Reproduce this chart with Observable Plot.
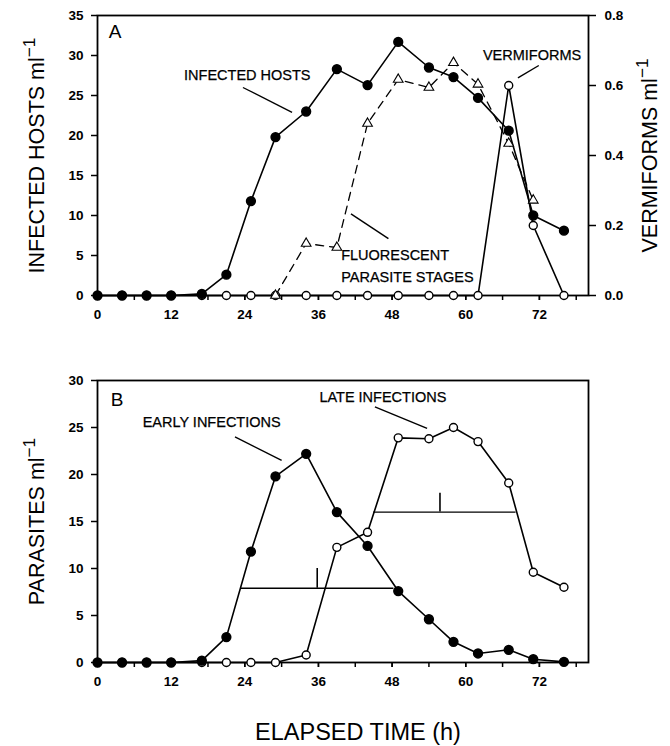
<!DOCTYPE html>
<html><head><meta charset="utf-8">
<script src="https://cdn.jsdelivr.net/npm/d3@7"></script>
<script src="https://cdn.jsdelivr.net/npm/@observablehq/plot@0.6"></script>
<style>body{margin:0;background:#fff}#chart svg{display:block;background:#fff}</style>
</head><body><div id="chart"></div>
<script>
// ---------- data ----------
const hours = [0,4,8,12,17,21,25,29,34,39,44,49,54,58,62,67,71,76];
const infectedHosts = [0,0,0,0,0.2,2.6,11.8,19.8,23,28.3,26.3,31.7,28.5,27.3,24.7,20.6,10,8.1];
const vermiforms = [0,0,0,0,0,0,0,0,0,0,0,0,0,0,0,0.6,0.2,0];
const fluorHours = [29,34,39,44,49,54,58,62,67,71];
const fluorescent = [0,6.5,6.0,21.5,27,26,29.1,26.4,19,11.9];

const earlyInfections = [0,0,0,0,0.2,2.7,11.8,19.8,22.2,16.0,12.4,7.6,4.6,2.2,0.96,1.35,0.35,0.07];
const lateInfections = [0,0,0,0,0,0,0,0,0.8,12.25,13.85,23.9,23.8,25.0,23.5,19.1,9.6,8.0];

// horizontal range bars with a vertical marker (panel B)
const barsB = [
  {x1: 23.3, x2: 48.3, y: 7.9, xm: 35.8, ym: 10.0},
  {x1: 45.0, x2: 68.2, y: 16.0, xm: 55.8, ym: 18.0}
];

const xTicksMajor = [0,12,24,36,48,60,72];
const xTicksMinor = [0,6,12,18,24,30,36,42,48,54,60,66,72,78];
const yTicksA = [0,5,10,15,20,25,30,35];
const yTicksRightA = [0.0,0.2,0.4,0.6,0.8];
const yTicksB = [0,5,10,15,20,25,30];

const labelsA = [
  {text: "INFECTED HOSTS", x: 24.4, y: 27.5},
  {text: "VERMIFORMS", x: 70.8, y: 30.0}
];
const labelsAStart = [
  {text: "FLUORESCENT\nPARASITE STAGES", x: 39.7, y: 3.9}
];
const leadersA = [
  {x1: 23.7, y1: 26.0, x2: 31.7, y2: 22.9},
  {x1: 41.3, y1: 10.2, x2: 47.4, y2: 7.1},
  {x1: 68.5, y1: 27.2, x2: 71.9, y2: 28.75}
];
const labelsB = [
  {text: "LATE INFECTIONS", x: 46.5, y: 28.2},
  {text: "EARLY INFECTIONS", x: 18.6, y: 25.5}
];
const leadersB = [
  {x1: 45.2, y1: 27.2, x2: 53.7, y2: 24.9},
  {x1: 22.4, y1: 24.0, x2: 30.0, y2: 21.5}
];
const panelLetters = [{text: "A", x: 2.85, y: 32.9}, {text: "B", x: 3.2, y: 27.9}];

// ---------- build rows ----------
const hostRows = hours.map((h, i) => ({h, v: infectedHosts[i]}));
const vermMax = 0.8, leftMaxA = 35;
const vermRows = hours.map((h, i) => ({h, v: vermiforms[i] * leftMaxA / vermMax}));
const fluorRows = fluorHours.map((h, i) => ({h, v: fluorescent[i]}));
const earlyRows = hours.map((h, i) => ({h, v: earlyInfections[i]}));
const lateRows = hours.map((h, i) => ({h, v: lateInfections[i]}));

const FONT = "Liberation Sans, Arial, Helvetica, sans-serif";
const W = 670, ML = 97, MR = 82;

function xAxes() {
  return [
    Plot.axisX({ticks: xTicksMinor, tickSize: 5, tickFormat: () => "", label: null, strokeWidth: 1.5}),
    Plot.axisX({ticks: xTicksMajor, tickSize: 5, tickPadding: 9, label: null, fontSize: 13.5, fontWeight: "bold", strokeWidth: 1.5})
  ];
}

const lineStyle = {x: "h", y: "v", stroke: "black", strokeWidth: 1.6};
const annot = {fontSize: 14.5, fill: "black", stroke: "black", strokeWidth: 0.25};

const plotA = Plot.plot({
  width: W, height: 330,
  marginLeft: ML, marginRight: MR, marginTop: 15, marginBottom: 35,
  style: {fontFamily: FONT, color: "black", background: "white"},
  x: {domain: [0, 80]},
  y: {domain: [0, 35]},
  marks: [
    Plot.frame({stroke: "black", strokeWidth: 1.8}),
    Plot.axisY({ticks: yTicksA, tickSize: 6, tickPadding: 8, label: null, fontSize: 13.5, fontWeight: "bold", strokeWidth: 1.5}),
    Plot.axisY({anchor: "right", ticks: yTicksRightA.map(v => v * leftMaxA / vermMax), tickFormat: d => (d * vermMax / leftMaxA).toFixed(1), tickSize: 7, tickPadding: 9, label: null, fontSize: 13.5, fontWeight: "bold", strokeWidth: 1.5}),
    ...xAxes(),
    Plot.line(vermRows, lineStyle),
    Plot.line(fluorRows, {...lineStyle, strokeWidth: 1.3, strokeDasharray: "8,6"}),
    Plot.line(hostRows, lineStyle),
    Plot.dot(vermRows, {x: "h", y: "v", r: 4, fill: "white", stroke: "black", strokeWidth: 1.4}),
    Plot.dot(fluorRows, {x: "h", y: "v", r: 3.6, symbol: "triangle", fill: "white", stroke: "black", strokeWidth: 1.1}),
    Plot.dot(hostRows, {x: "h", y: "v", r: 4.4, fill: "black", stroke: "black"}),
    Plot.link(leadersA, {x1: "x1", y1: "y1", x2: "x2", y2: "y2", stroke: "black", strokeWidth: 1.4}),
    Plot.text(labelsA, {x: "x", y: "y", text: "text", ...annot}),
    Plot.text(labelsAStart, {x: "x", y: "y", text: "text", textAnchor: "start", lineHeight: 1.5, ...annot}),
    Plot.text(panelLetters.slice(0, 1), {x: "x", y: "y", text: "text", fontSize: 19, fill: "black"}),
    Plot.text(["INFECTED HOSTS ml⁻¹"], {frameAnchor: "left", dx: -60, rotate: -90, textAnchor: "middle", text: d => d, fontSize: 21.5, fill: "black"}),
    Plot.text(["VERMIFORMS ml⁻¹"], {frameAnchor: "right", dx: 62, rotate: -90, textAnchor: "middle", text: d => d, fontSize: 21.5, fill: "black"})
  ]
});

const plotB = Plot.plot({
  width: W, height: 416,
  marginLeft: ML, marginRight: MR, marginTop: 50, marginBottom: 84,
  style: {fontFamily: FONT, color: "black", background: "white"},
  x: {domain: [0, 80]},
  y: {domain: [0, 30]},
  marks: [
    Plot.frame({stroke: "black", strokeWidth: 1.8}),
    Plot.axisY({ticks: yTicksB, tickSize: 6, tickPadding: 8, label: null, fontSize: 13.5, fontWeight: "bold", strokeWidth: 1.5}),
    ...xAxes(),
    Plot.ruleY(barsB, {x1: "x1", x2: "x2", y: "y", stroke: "black", strokeWidth: 1.3}),
    Plot.ruleX(barsB, {x: "xm", y1: "y", y2: "ym", stroke: "black", strokeWidth: 1.6}),
    Plot.line(lateRows, lineStyle),
    Plot.line(earlyRows, lineStyle),
    Plot.dot(lateRows, {x: "h", y: "v", r: 4, fill: "white", stroke: "black", strokeWidth: 1.4}),
    Plot.dot(earlyRows, {x: "h", y: "v", r: 4.4, fill: "black", stroke: "black"}),
    Plot.link(leadersB, {x1: "x1", y1: "y1", x2: "x2", y2: "y2", stroke: "black", strokeWidth: 1.4}),
    Plot.text(labelsB, {x: "x", y: "y", text: "text", ...annot}),
    Plot.text(panelLetters.slice(1), {x: "x", y: "y", text: "text", fontSize: 19, fill: "black"}),
    Plot.text(["PARASITES ml⁻¹"], {frameAnchor: "left", dx: -60, rotate: -90, textAnchor: "middle", text: d => d, fontSize: 21.5, fill: "black"}),
    Plot.text(["ELAPSED TIME (h)"], {frameAnchor: "bottom", dx: 15, dy: 77, text: d => d, fontSize: 23.5, fill: "black"})
  ]
});

// render superscripts as raised text
function superscripts(svg) {
  svg.querySelectorAll("text").forEach(t => {
    if (t.children.length === 0 && t.textContent.endsWith("ml⁻¹")) {
      const base = t.textContent.replace("⁻¹", "");
      t.textContent = base;
      const ts = document.createElementNS("http://www.w3.org/2000/svg", "tspan");
      ts.setAttribute("dy", "-0.55em");
      ts.setAttribute("font-size", "0.8em");
      ts.textContent = "−1";
      t.appendChild(ts);
    }
  });
}
superscripts(plotA); superscripts(plotB);

document.getElementById("chart").append(plotA, plotB);
</script>
</body></html>
